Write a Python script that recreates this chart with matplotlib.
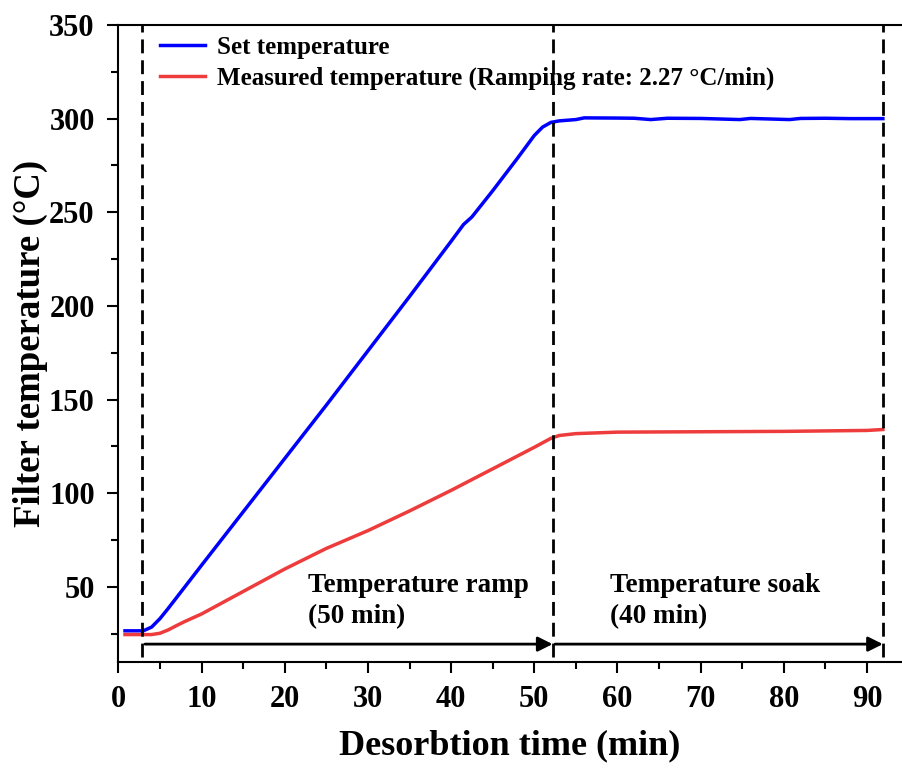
import numpy as np
import matplotlib
matplotlib.use("Agg")
import matplotlib.pyplot as plt
from matplotlib.ticker import MultipleLocator

plt.rcParams['font.family'] = ['Liberation Serif', 'DejaVu Serif']
plt.rcParams['font.weight'] = 'bold'

# set temperature (blue)
set_time = [0.8, 3.0, 4.0, 5.0, 6.0, 8.0, 10, 15, 20, 25, 30, 35, 40, 41.5, 42.5,
            45, 48, 50, 51, 52, 53, 55, 56, 60, 62, 64, 66, 70, 74.7, 76, 80.7,
            82, 85, 88, 91.9]
set_temp = [26.5, 26.5, 28.5, 33, 38.5, 50, 61.5, 90, 118.5, 147, 176, 205, 234.5,
            243.5, 247.5, 261.5, 279, 291, 295.5, 298, 298.8, 299.5, 300.4, 300.3,
            300.2, 299.5, 300.2, 300.1, 299.5, 300.1, 299.5, 300.1, 300.2, 300, 300]

# measured temperature (red)
meas_time = [0.8, 4.0, 5.0, 6.0, 7.0, 8.0, 10, 15, 20, 25, 30, 35, 40, 45, 50,
             52, 53, 55, 60, 70, 80, 90, 91.9]
meas_temp = [24.5, 24.5, 25.2, 27, 29.3, 31.5, 35.5, 47.5, 59.5, 70.5, 80, 90.5,
             101.5, 113, 124.5, 129.3, 130.8, 131.8, 132.6, 132.8, 133, 133.5, 134]

phase_edges = [2.9, 52.2, 91.9]
phase_labels = ["Temperature ramp\n(50 min)", "Temperature soak\n(40 min)"]
label_x = [22.8, 59.1]

fig = plt.figure(figsize=(9.02, 7.69), dpi=100)
ax = fig.add_axes([0.1312, 0.1395, 0.8688, 0.828])

ax.plot(set_time, set_temp, color='#0000FF', lw=2.5, label='Set temperature')
ax.plot(meas_time, meas_temp, color='#EE3B3B', lw=2.5,
        label='Measured temperature (Ramping rate: 2.27 \u00b0C/min)')

for xe in phase_edges:
    ax.plot([xe, xe], [12.5, 350], color='black', lw=2, dashes=(5, 2.5))

arrow_y = 19.4
for i in range(2):
    ax.annotate('', xy=(phase_edges[i + 1], arrow_y), xytext=(phase_edges[i] + 0.3, arrow_y),
                arrowprops=dict(arrowstyle='-|>', color='black', lw=2,
                                mutation_scale=22, shrinkA=0, shrinkB=0))
    ax.text(label_x[i], 42.5, phase_labels[i], fontsize=19.5, fontweight='bold',
            ha='left', va='center', linespacing=1.3)

ax.set_xlim(0, 94.2)
ax.set_ylim(10, 350)
ax.xaxis.set_major_locator(MultipleLocator(10))
ax.xaxis.set_minor_locator(MultipleLocator(5))
ax.yaxis.set_major_locator(MultipleLocator(50))
ax.yaxis.set_minor_locator(MultipleLocator(25))
ax.set_yticks([50, 100, 150, 200, 250, 300, 350])

ax.tick_params(which='major', direction='out', length=8, width=1.5, labelsize=22, pad=9)
ax.tick_params(which='minor', direction='out', length=5, width=1.5)
for lab in ax.get_xticklabels() + ax.get_yticklabels():
    lab.set_fontweight('bold')

ax.spines['right'].set_visible(False)
for s in ['left', 'bottom', 'top']:
    ax.spines[s].set_linewidth(1.5)

ax.set_xlabel('Desorbtion time (min)', fontsize=26, fontweight='bold', labelpad=11)
ax.set_ylabel('Filter temperature (\u00b0C)', fontsize=26.5, fontweight='bold', labelpad=1)

ax.legend(loc='upper left', bbox_to_anchor=(0.025, 1.018), frameon=False,
          handlelength=1.8, handletextpad=0.45, labelspacing=0.3,
          prop={'weight': 'bold', 'size': 18})

fig.savefig('out.png', dpi=100)
